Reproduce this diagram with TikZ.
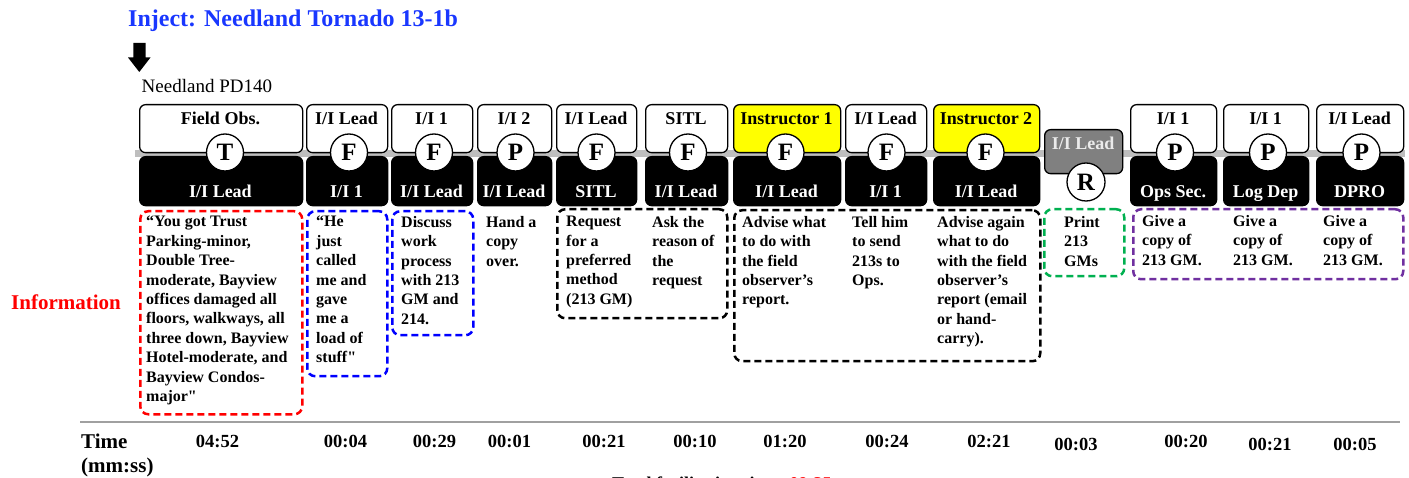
\documentclass[tikz,border=0pt]{standalone}
\usepackage{fontspec}
\setmainfont{Liberation Serif}[Ligatures=TeXOff]
\definecolor{titleblue}{RGB}{25,55,255}
\definecolor{linegray}{RGB}{190,190,190}
\definecolor{rulegray}{RGB}{160,160,160}
\definecolor{rgreen}{RGB}{0,176,80}
\definecolor{rpurple}{RGB}{112,48,160}
\definecolor{boxgray}{RGB}{128,128,128}
\definecolor{hiyellow}{RGB}{255,255,0}
\newcommand\fsz[2]{\fontsize{#1}{#2}\selectfont}
% name, x left, x right, top text, letter, bottom text, top fill, circle x
\newcommand\mkcol[8]{%
  \node[topbox, fill=#7, minimum width={#3-#2}] (#1t) at (#2,104) {};
  \node[botbox, minimum width={#3-#2}] (#1b) at (#2,156) {};
  \node[toplbl] (#1tl) at ({(#2+#3)/2},125) {#4};
  \node[botlbl] (#1bl) at ({(#2+#3)/2},198) {#6};
  \node[letter] (#1c) at (#8,152.5) {#5};
}
\begin{document}
\begin{tikzpicture}[x=1pt,y=-1pt,
  topbox/.style={draw=black, line width=1.3pt, rounded corners=6pt, minimum height=48pt, inner sep=0pt, anchor=north west},
  botbox/.style={draw=black, fill=black, line width=1.3pt, rounded corners=6pt, minimum height=49pt, inner sep=0pt, anchor=north west},
  toplbl/.style={anchor=base, inner sep=0pt, font=\fsz{18}{21}\bfseries},
  botlbl/.style={anchor=base, inner sep=0pt, text=white, font=\fsz{18}{21}\bfseries},
  letter/.style={circle, draw=black, line width=1.3pt, fill=white, minimum size=37pt, inner sep=0pt, font=\fsz{25}{28}\bfseries},
  info/.style={anchor=north west, align=left, inner sep=0pt, font=\fsz{16}{19.4}\bfseries},
  dbox/.style={draw=#1, dash pattern=on 7pt off 4pt, line width=2.5pt, rounded corners=8pt, anchor=north west, inner sep=0pt},
  timelbl/.style={anchor=base, inner sep=0pt, font=\fsz{18.5}{21}\bfseries},
  plainlbl/.style={anchor=base west, inner sep=0pt},
]
\clip (0,0) rectangle (1409,478);
\fill[white] (0,0) rectangle (1409,478);

% title, arrow, source
\node[plainlbl, text=titleblue, font=\fsz{24}{28}\bfseries] (title) at (128,26.5) {Inject: Needland Tornado 13-1b};
\fill[black] (133.3,43) -- (145.7,43) -- (145.7,57.5) -- (150.5,57.5) -- (139.3,72) -- (128,57.5) -- (133.3,57.5) -- cycle;
\node[plainlbl, font=\fsz{19}{22}] (src) at (141.5,93) {Needland PD140};

% timeline bar
\coordinate (gl) at (135,154);
\coordinate (gr) at (1405,154);
\draw[linegray, line width=7pt] (gl) -- (gr);

% columns
\mkcol{c1}{139}{302}{Field Obs.}{T}{I/I Lead}{white}{225}
\mkcol{c2}{306}{387}{I/I Lead}{F}{I/I 1}{white}{349}
\mkcol{c3}{391}{472}{I/I 1}{F}{I/I Lead}{white}{434}
\mkcol{c4}{477}{551}{I/I 2}{P}{I/I Lead}{white}{515.5}
\mkcol{c5}{556}{636}{I/I Lead}{F}{SITL}{white}{596.5}
\mkcol{c6}{645}{727}{SITL}{F}{I/I Lead}{white}{688}
\mkcol{c7}{733}{840}{Instructor 1}{F}{I/I Lead}{hiyellow}{785.5}
\mkcol{c8}{845}{926}{I/I Lead}{F}{I/I 1}{white}{886.5}
\mkcol{c9}{933}{1039}{Instructor 2}{F}{I/I Lead}{hiyellow}{985.5}
\mkcol{c11}{1130}{1216}{I/I 1}{P}{Ops Sec.}{white}{1175}
\mkcol{c12}{1223}{1308}{I/I 1}{P}{Log Dep}{white}{1268}
\mkcol{c13}{1316}{1403}{I/I Lead}{P}{DPRO}{white}{1361.5}

% gray R column
\node[topbox, fill=boxgray, minimum width=78, minimum height=44] (c10t) at (1044,129) {};
\node[anchor=base, inner sep=0pt, text=black!8, font=\fsz{18}{21}\bfseries] (c10tl) at (1083,149.5) {I/I Lead};
\node[letter, minimum size=38pt] (c10c) at (1086,182) {R};

% Information label
\node[plainlbl, text=red, font=\fsz{21}{24}\bfseries] (infolbl) at (11,310) {Information};

% dashed boxes
\node[dbox=red, minimum width=162, minimum height=203] (bred) at (139,210) {};
\node[dbox=blue, minimum width=80, minimum height=165] (bblue1) at (306,210) {};
\node[dbox=blue, minimum width=81, minimum height=124] (bblue2) at (391,210) {};
\node[dbox=black, minimum width=170, minimum height=109] (bblk1) at (556,208) {};
\node[dbox=black, minimum width=306, minimum height=151] (bblk2) at (733,209) {};
\node[dbox=rgreen, minimum width=80, minimum height=67] (bgreen) at (1043,208) {};
\node[dbox=rpurple, minimum width=270, minimum height=70] (bpurple) at (1132,208) {};

% info texts
\node[info] (i1) at (146,216) {“You got Trust\\Parking-minor,\\Double Tree-\\moderate, Bayview\\offices damaged all\\floors, walkways, all\\three down, Bayview\\Hotel-moderate, and\\Bayview Condos-\\major"};
\node[info] (i2) at (316,216) {“He\\just\\called\\me and\\gave\\me a\\load of\\stuff"};
\node[info] (i3) at (401,216) {Discuss\\work\\process\\with 213\\GM and\\214.};
\node[info] (i4) at (486,216) {Hand a\\copy\\over.};
\node[info] (i5) at (566,216) {Request\\for a\\preferred\\method\\(213 GM)};
\node[info] (i6) at (652,216) {Ask the\\reason of\\the\\request};
\node[info] (i7) at (742,216) {Advise what\\to do with\\the field\\observer’s\\report.};
\node[info] (i8) at (852,216) {Tell him\\to send\\213s to\\Ops.};
\node[info] (i9) at (937,216) {Advise again\\what to do\\with the field\\observer’s\\report (email\\or hand-\\carry).};
\node[info] (i10) at (1064,216) {Print\\213\\GMs};
\node[info] (i11) at (1142,215) {Give a\\copy of\\213 GM.};
\node[info] (i12) at (1233,215) {Give a\\copy of\\213 GM.};
\node[info] (i13) at (1323,215) {Give a\\copy of\\213 GM.};

% time row
\coordinate (rl) at (80,422);
\coordinate (rr) at (1400,422);
\draw[rulegray, line width=2pt] (rl) -- (rr);
\node[plainlbl, font=\fsz{21}{24}\bfseries] (tlbl) at (81,448) {Time};
\node[plainlbl, font=\fsz{21}{24}\bfseries] (tunit) at (81,472) {(mm:ss)};
\node[timelbl] (t1) at (217.5,447) {04:52};
\node[timelbl] (t2) at (345.5,447) {00:04};
\node[timelbl] (t3) at (434.5,447) {00:29};
\node[timelbl] (t4) at (509.5,447) {00:01};
\node[timelbl] (t5) at (604,447) {00:21};
\node[timelbl] (t6) at (695,447) {00:10};
\node[timelbl] (t7) at (785,447) {01:20};
\node[timelbl] (t8) at (887,447) {00:24};
\node[timelbl] (t9) at (989,447) {02:21};
\node[timelbl] (t10) at (1076,450) {00:03};
\node[timelbl] (t11) at (1186,447) {00:20};
\node[timelbl] (t12) at (1270,450) {00:21};
\node[timelbl] (t13) at (1355,450) {00:05};

% total (cut off at the lower edge, as in the reference)
\node[plainlbl, font=\fsz{18}{21}\bfseries] (total) at (612,489) {Total facilitation time: \textcolor{red}{09:35}};
\end{tikzpicture}
\end{document}
